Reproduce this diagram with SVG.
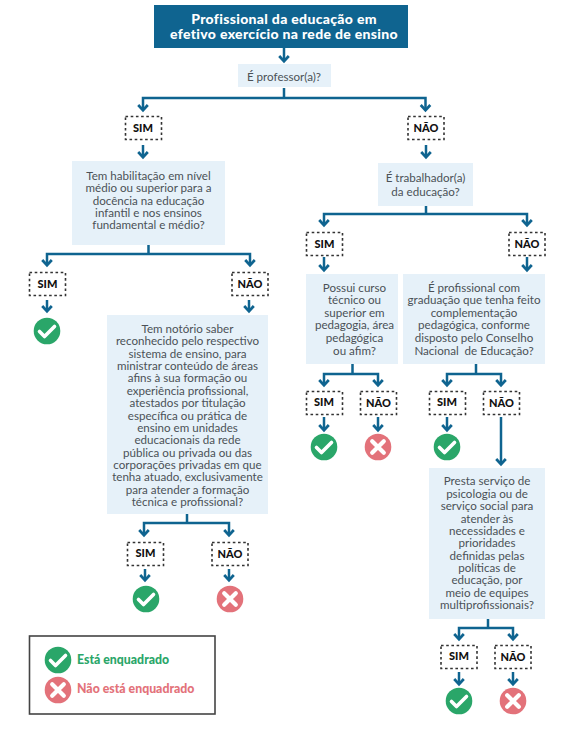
<svg xmlns="http://www.w3.org/2000/svg" width="569" height="745" viewBox="0 0 569 745">
<style>
text{font-family:"Lato","Liberation Sans",sans-serif;text-anchor:middle}
.q{fill:#e6f1f9}
.t{font-size:11.6px;fill:#4b5157}
.h{font-size:14px;font-weight:900;fill:#fff;letter-spacing:.32px}
.d{fill:#fff;stroke:#333;stroke-width:1.6;stroke-dasharray:2.6 2.6}
.l{font-size:11px;font-weight:900;fill:#111}
.c{fill:none;stroke:#0f6490;stroke-width:2.5}
.k{font-size:12.3px;font-weight:900;text-anchor:start}
</style>
<defs>
<g id="ok"><circle r="13.3" fill="#2aa669"/><path d="M-7.5 0.5 L-2.5 5.5 L7.5 -4.5" fill="none" stroke="#fff" stroke-width="3.6" stroke-linecap="round" stroke-linejoin="round"/></g>
<g id="no"><circle r="13.3" fill="#e3727a"/><path d="M-5.8 -5.8 L5.8 5.8 M5.8 -5.8 L-5.8 5.8" fill="none" stroke="#fff" stroke-width="4.2" stroke-linecap="round"/></g>
<path id="dn" d="M-4.8 -6 L0 -0.8 L4.800 -6" fill="none" stroke="#0f6490" stroke-width="2.7"/>
</defs>
<rect width="569" height="745" fill="#fff"/>
<g id="connectors" class="c">
<path d="M284 48V61"/><use href="#dn" x="284" y="62"/>
<path d="M284 88V98M143 110V98H425.500V110"/><use href="#dn" x="143" y="111"/><use href="#dn" x="425.500" y="111"/>
<path d="M143 145V157"/><use href="#dn" x="143" y="158"/>
<path d="M426 145V157"/><use href="#dn" x="426" y="158"/>
<path d="M426 206V214M324 225V214H527V225"/><use href="#dn" x="324" y="226"/><use href="#dn" x="527" y="226"/>
<path d="M324 257V270"/><use href="#dn" x="324" y="271"/>
<path d="M527 257V270"/><use href="#dn" x="527" y="271"/>
<path d="M148.500 245V254M47 265V254H250V265"/><use href="#dn" x="47" y="266"/><use href="#dn" x="250" y="266"/>
<path d="M47 300V311"/><use href="#dn" x="47" y="312"/>
<path d="M249 300V311"/><use href="#dn" x="249" y="312"/>
<path d="M187 514V523M144 535V523H229V535"/><use href="#dn" x="144" y="536"/><use href="#dn" x="229" y="536"/>
<path d="M145 569V580"/><use href="#dn" x="145" y="581"/>
<path d="M229 569V580"/><use href="#dn" x="229" y="581"/>
<path d="M352.500 364V374M324 385V374H378V385"/><use href="#dn" x="324" y="386"/><use href="#dn" x="378" y="386"/>
<path d="M476 364V374M447 385V374H501V385"/><use href="#dn" x="447" y="386"/><use href="#dn" x="501" y="386"/>
<path d="M324 417V430"/><use href="#dn" x="324" y="431"/>
<path d="M378 417V430"/><use href="#dn" x="378" y="431"/>
<path d="M447 417V430"/><use href="#dn" x="447" y="431"/>
<path d="M501 417V464"/><use href="#dn" x="501" y="465"/>
<path d="M488 619V628M459 639V628H513V639"/><use href="#dn" x="459" y="640"/><use href="#dn" x="513" y="640"/>
<path d="M459 672V684"/><use href="#dn" x="459" y="685"/>
<path d="M513 672V684"/><use href="#dn" x="513" y="685"/>
</g>
<g id="n-inicio"><rect x="154" y="5" width="254" height="43" fill="#0f6490"/>
<text class="h" x="284" y="24">Profissional da educação em</text><text class="h" x="284" y="39">efetivo exercício na rede de ensino</text></g>
<g id="n-professor"><rect class="q" x="238" y="64" width="93" height="23"/><text class="t" x="284" y="81">É professor(a)?</text></g>
<g id="n-sim1"><rect class="d" x="125.500" y="116.500" width="36" height="23"/><text class="l" x="143" y="132">SIM</text></g>
<g id="n-nao1"><rect class="d" x="408" y="116.500" width="36" height="23"/><text class="l" x="426" y="132">NÃO</text></g>
<g id="n-habilitacao"><rect class="q" x="72" y="161" width="153" height="84"/>
<text class="t" x="148.500" y="180">Tem habilitação em nível</text>
<text class="t" x="148.500" y="192">médio ou superior para a</text>
<text class="t" x="148.500" y="204.500">docência na educação</text>
<text class="t" x="148.500" y="217">infantil e nos ensinos</text>
<text class="t" x="148.500" y="229">fundamental e médio?</text></g>
<g id="n-trabalhador"><rect class="q" x="378" y="163" width="95" height="43"/>
<text class="t" x="425.500" y="182">É trabalhador(a)</text><text class="t" x="425.500" y="196">da educação?</text></g>
<g id="n-sim2"><rect class="d" x="306.500" y="232.500" width="36" height="23"/><text class="l" x="324.500" y="248">SIM</text></g>
<g id="n-nao2"><rect class="d" x="509" y="232.500" width="36" height="23"/><text class="l" x="527" y="248">NÃO</text></g>
<g id="n-sim3"><rect class="d" x="29.500" y="272.500" width="36" height="23"/><text class="l" x="47.500" y="288">SIM</text></g>
<g id="n-nao3"><rect class="d" x="232" y="272.500" width="36" height="23"/><text class="l" x="250" y="288">NÃO</text></g>
<g id="n-ok1"><use href="#ok" x="47" y="331"/></g>
<g id="n-notorio"><rect class="q" x="107" y="315" width="161" height="199"/>
<text class="t" x="187.500" y="333">Tem notório saber</text>
<text class="t" x="187.500" y="345.400">reconhecido pelo respectivo</text>
<text class="t" x="187.500" y="357.700">sistema de ensino, para</text>
<text class="t" x="187.500" y="370">ministrar conteúdo de áreas</text>
<text class="t" x="187.500" y="382.400">afins à sua formação ou</text>
<text class="t" x="187.500" y="394.800">experiência profissional,</text>
<text class="t" x="187.500" y="407.200">atestados por titulação</text>
<text class="t" x="187.500" y="419.500">específica ou prática de</text>
<text class="t" x="187.500" y="431.900">ensino em unidades</text>
<text class="t" x="187.500" y="444.200">educacionais da rede</text>
<text class="t" x="187.500" y="456.600">pública ou privada ou das</text>
<text class="t" x="187.500" y="469">corporações privadas em que</text>
<text class="t" x="187.500" y="481.300">tenha atuado, exclusivamente</text>
<text class="t" x="187.500" y="493.700">para atender a formação</text>
<text class="t" x="187.500" y="506">técnica e profissional?</text></g>
<g id="n-sim4"><rect class="d" x="127.500" y="542.500" width="36" height="23"/><text class="l" x="145.500" y="557">SIM</text></g>
<g id="n-nao4"><rect class="d" x="212" y="542.500" width="36" height="23"/><text class="l" x="230" y="558">NÃO</text></g>
<g id="n-ok2"><use href="#ok" x="146" y="599"/></g>
<g id="n-x2"><use href="#no" x="230" y="599"/></g>
<g id="n-curso"><rect class="q" x="306" y="274" width="92" height="90"/>
<text class="t" x="354.500" y="292">Possui curso</text>
<text class="t" x="354.500" y="304">técnico ou</text>
<text class="t" x="354.500" y="317">superior em</text>
<text class="t" x="354.500" y="329">pedagogia, área</text>
<text class="t" x="354.500" y="342">pedagógica</text>
<text class="t" x="354.500" y="355">ou afim?</text></g>
<g id="n-graduacao"><rect class="q" x="403" y="274" width="142" height="90"/>
<text class="t" x="474" y="292">É profissional com</text>
<text class="t" x="474" y="304">graduação que tenha feito</text>
<text class="t" x="474" y="317">complementação</text>
<text class="t" x="474" y="329">pedagógica, conforme</text>
<text class="t" x="474" y="342">disposto pelo Conselho</text>
<text class="t" x="474" y="355" xml:space="preserve">Nacional  de Educação?</text></g>
<g id="n-sim5"><rect class="d" x="306.500" y="391.500" width="36" height="23"/><text class="l" x="324" y="406">SIM</text></g>
<g id="n-nao5"><rect class="d" x="360.500" y="391.500" width="36" height="23"/><text class="l" x="378.500" y="407">NÃO</text></g>
<g id="n-ok3"><use href="#ok" x="324" y="447"/></g>
<g id="n-x3"><use href="#no" x="378" y="447"/></g>
<g id="n-sim6"><rect class="d" x="429.500" y="391.500" width="36" height="23"/><text class="l" x="447" y="406">SIM</text></g>
<g id="n-nao6"><rect class="d" x="483.500" y="391.500" width="36" height="23"/><text class="l" x="501.500" y="407">NÃO</text></g>
<g id="n-ok4"><use href="#ok" x="447" y="447"/></g>
<g id="n-psicologia"><rect class="q" x="429" y="468" width="116" height="151"/>
<text class="t" x="487" y="485">Presta serviço de</text>
<text class="t" x="487" y="498">psicologia ou de</text>
<text class="t" x="487" y="510">serviço social para</text>
<text class="t" x="487" y="522.500">atender às</text>
<text class="t" x="487" y="534.500">necessidades e</text>
<text class="t" x="487" y="547">prioridades</text>
<text class="t" x="487" y="559.500">definidas pelas</text>
<text class="t" x="487" y="571.500">políticas de</text>
<text class="t" x="487" y="584">educação, por</text>
<text class="t" x="487" y="596.500">meio de equipes</text>
<text class="t" x="487" y="608.500">multiprofissionais?</text></g>
<g id="n-sim7"><rect class="d" x="441" y="645.500" width="36" height="23"/><text class="l" x="459" y="660">SIM</text></g>
<g id="n-nao7"><rect class="d" x="495" y="645.500" width="36" height="23"/><text class="l" x="513" y="661">NÃO</text></g>
<g id="n-ok5"><use href="#ok" x="459" y="701"/></g>
<g id="n-x5"><use href="#no" x="513" y="701"/></g>
<g id="legenda"><rect x="29.500" y="636" width="185.500" height="78" fill="#fff" stroke="#444" stroke-width="1.6"/>
<use href="#ok" x="58" y="660"/><use href="#no" x="58" y="690"/>
<text class="k" x="77" y="664" fill="#2aa669">Está enquadrado</text>
<text class="k" x="77" y="693" fill="#e3727a">Não está enquadrado</text></g>
</svg>
